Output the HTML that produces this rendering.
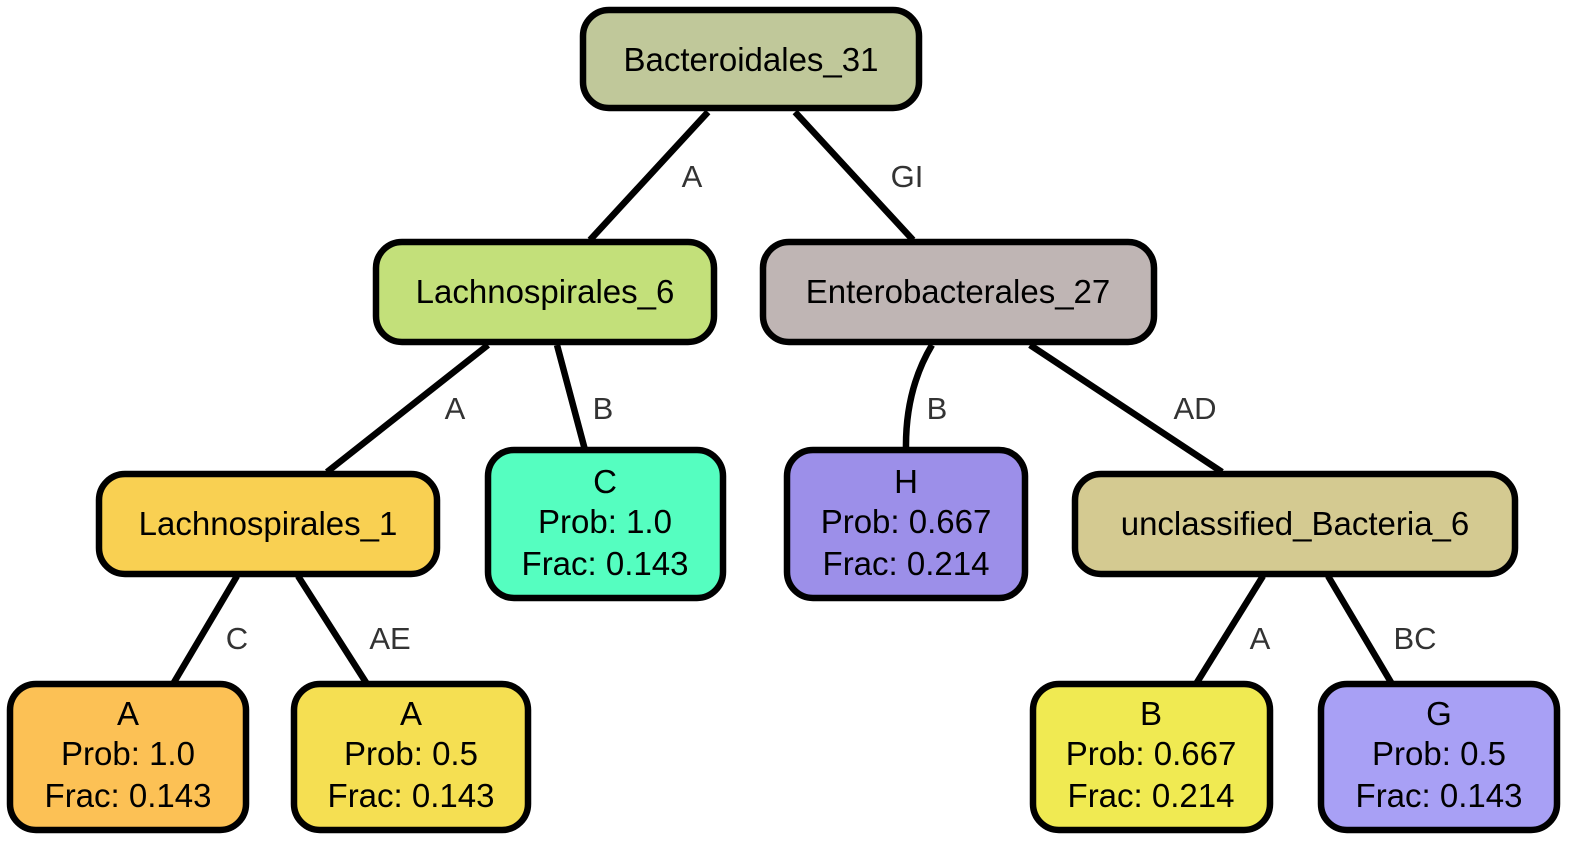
<!DOCTYPE html>
<html><head><meta charset="utf-8"><style>
html,body{margin:0;padding:0;background:#fff;width:1578px;height:846px;overflow:hidden}
svg text{font-family:"Liberation Sans",sans-serif}
</style></head><body>
<svg width="1578" height="846" viewBox="0 0 1578 846">
<g stroke="#000" stroke-width="6.5" fill="none">
<path d="M708,112 L590,240"/>
<path d="M795,112 L913,240"/>
<path d="M488,345 L327,472"/>
<path d="M557,345 L585,450"/>
<path d="M932,345 Q905,390 906,450"/>
<path d="M1030,345 L1222,472"/>
<path d="M237,576 L173,684"/>
<path d="M298,576 L367,684"/>
<path d="M1263,576 L1196,684"/>
<path d="M1328,576 L1392,684"/>
</g>
<g fill="#333" font-size="31" text-anchor="middle">
<text x="692" y="187">A</text>
<text x="907" y="187">GI</text>
<text x="455" y="419">A</text>
<text x="603" y="419">B</text>
<text x="937" y="419">B</text>
<text x="1195" y="419">AD</text>
<text x="237" y="649">C</text>
<text x="390" y="649">AE</text>
<text x="1260" y="649">A</text>
<text x="1415" y="649">BC</text>
</g>
<g stroke="#000" stroke-width="6.5" font-size="33" text-anchor="middle">
<g><rect x="583" y="10" width="336" height="98" rx="26" fill="#c0c89a"/><text x="751" y="71" stroke="none" fill="#000">Bacteroidales_31</text></g>
<g><rect x="376" y="242" width="338" height="100" rx="26" fill="#c3e07a"/><text x="545" y="303" stroke="none" fill="#000">Lachnospirales_6</text></g>
<g><rect x="763" y="242" width="391" height="100" rx="26" fill="#bfb5b4"/><text x="958" y="303" stroke="none" fill="#000">Enterobacterales_27</text></g>
<g><rect x="99" y="474" width="338" height="100" rx="26" fill="#f9d052"/><text x="268" y="535" stroke="none" fill="#000">Lachnospirales_1</text></g>
<g><rect x="1075" y="474" width="440" height="100" rx="26" fill="#d4ca91"/><text x="1295" y="535" stroke="none" fill="#000">unclassified_Bacteria_6</text></g>
<g><rect x="488" y="450" width="235" height="148" rx="26" fill="#55fec0"/><text stroke="none" fill="#000"><tspan x="605" y="493">C</tspan><tspan x="605" y="533">Prob: 1.0</tspan><tspan x="605" y="575">Frac: 0.143</tspan></text></g>
<g><rect x="787" y="450" width="238" height="148" rx="26" fill="#9c8fe9"/><text stroke="none" fill="#000"><tspan x="906" y="493">H</tspan><tspan x="906" y="533">Prob: 0.667</tspan><tspan x="906" y="575">Frac: 0.214</tspan></text></g>
<g><rect x="10" y="684" width="236" height="146" rx="26" fill="#fcc155"/><text stroke="none" fill="#000"><tspan x="128" y="725">A</tspan><tspan x="128" y="765">Prob: 1.0</tspan><tspan x="128" y="807">Frac: 0.143</tspan></text></g>
<g><rect x="294" y="684" width="234" height="146" rx="26" fill="#f5df52"/><text stroke="none" fill="#000"><tspan x="411" y="725">A</tspan><tspan x="411" y="765">Prob: 0.5</tspan><tspan x="411" y="807">Frac: 0.143</tspan></text></g>
<g><rect x="1033" y="684" width="237" height="146" rx="26" fill="#f0ea52"/><text stroke="none" fill="#000"><tspan x="1151" y="725">B</tspan><tspan x="1151" y="765">Prob: 0.667</tspan><tspan x="1151" y="807">Frac: 0.214</tspan></text></g>
<g><rect x="1321" y="684" width="236" height="146" rx="26" fill="#a8a0f5"/><text stroke="none" fill="#000"><tspan x="1439" y="725">G</tspan><tspan x="1439" y="765">Prob: 0.5</tspan><tspan x="1439" y="807">Frac: 0.143</tspan></text></g>
</g>
</svg>
</body></html>
